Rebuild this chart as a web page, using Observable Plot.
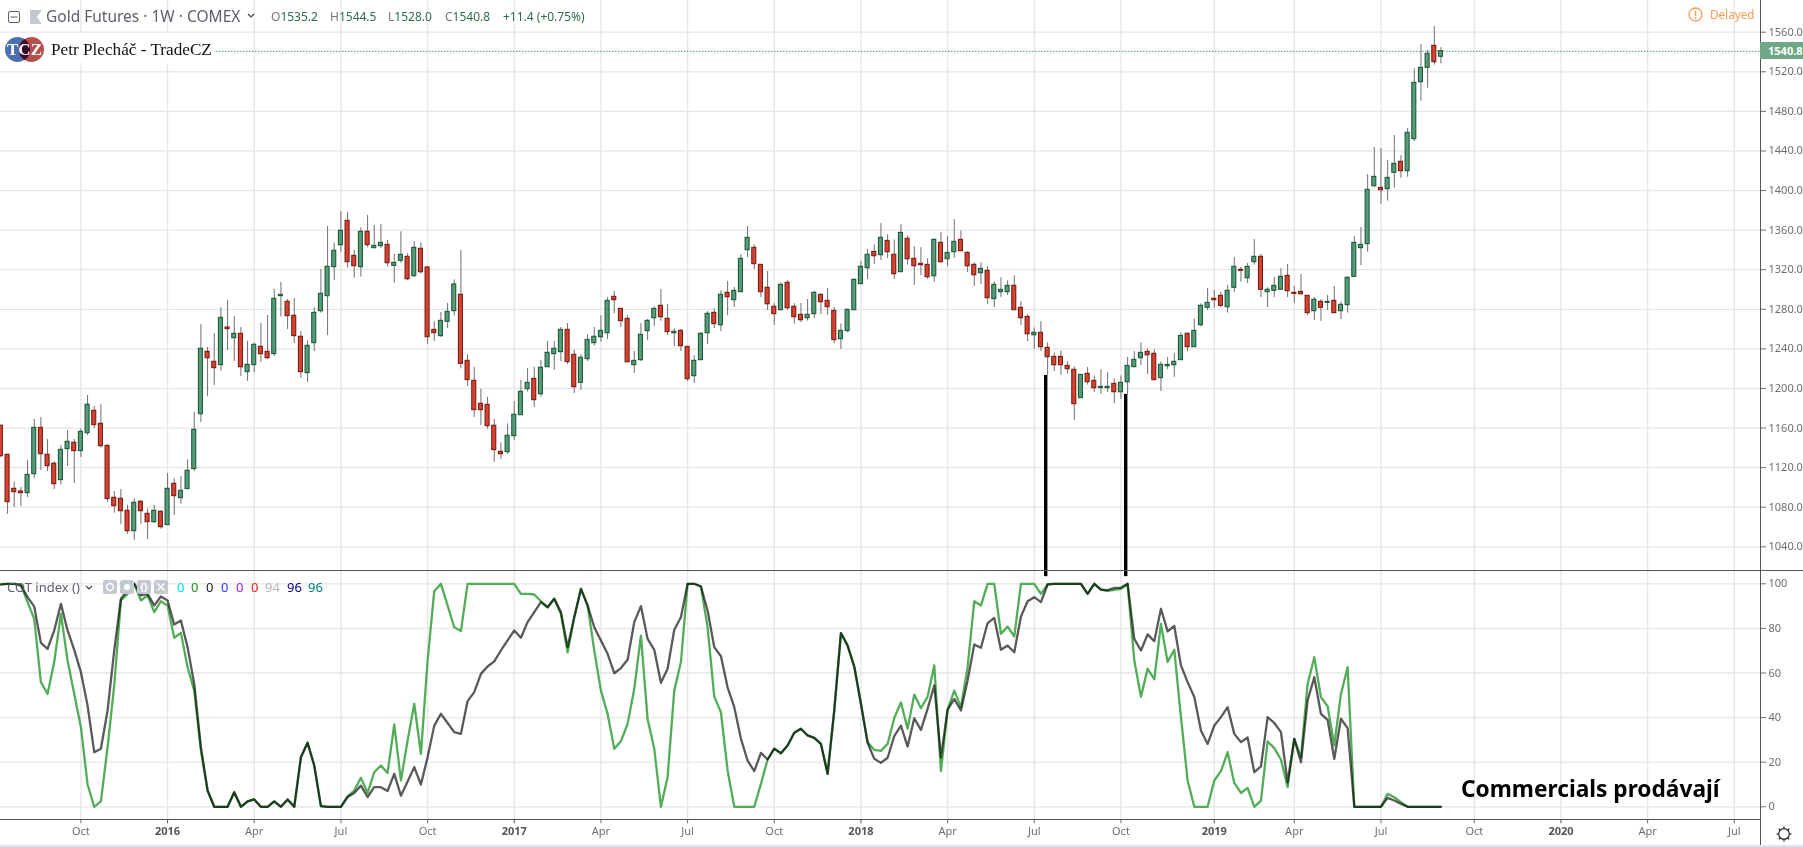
<!DOCTYPE html>
<html><head><meta charset="utf-8">
<script src="https://cdn.jsdelivr.net/npm/d3@7"></script>
<script src="https://cdn.jsdelivr.net/npm/@observablehq/plot@0.6"></script>
<style>
html,body{margin:0;padding:0;background:#fff;overflow:hidden}
#wrap{position:relative;width:1803px;height:847px;font-family:"Noto Sans",sans-serif}
#wrap svg{display:block}
.ov{position:absolute;white-space:nowrap;line-height:1}
.box{position:absolute}
</style></head><body>
<div id="wrap"><div id="top"></div><div id="bottom"></div></div>
<script>
const firstWeek = "2015-07-13";
const opens = [
1162.3,1133,1098.6,1095.9,1094.2,1113.4,1160.2,1133,1123.9,1107.4,
1138.7,1145.1,1136.7,1154.8,1177.4,1164.3,1142,1089.5,1088.5,1076.4,
1055.8,1085.5,1073.3,1064.9,1075.4,1061.9,1103.6,1089.2,1098.3,1118.5,
1174,1237,1226.9,1223.6,1261.6,1250.8,1255.2,1216.5,1223.6,1242.1,
1237,1234.7,1293.3,1287.5,1273.4,1252.2,1215.5,1245.8,1278.1,1293.3,
1322.6,1344.8,1369.4,1334,1322.6,1358.3,1341.8,1343.8,1345.1,1323.9,
1329,1333,1313.5,1341.1,1322.2,1259.2,1252.9,1267.3,1278.1,1294.6,
1227.9,1207.7,1184.5,1183.5,1162.3,1136,1135.6,1151.8,1173,1199.3,
1209.7,1194.2,1221.5,1234.7,1236.7,1259.2,1234,1205.7,1229.6,1245.8,
1251.8,1255.8,1292.6,1280.4,1270.3,1223.5,1228.6,1257.9,1271,1283.5,
1270.3,1255.8,1258.2,1242,1212.4,1228.6,1255.8,1276.4,1263.9,1296.6,
1289.2,1297.3,1339.7,1342.1,1324.9,1301.7,1282.5,1279.1,1306.7,1282.5,
1274.4,1271,1275.1,1294.6,1288.5,1278.4,1249.8,1257.9,1279.1,1305.4,
1321.5,1338,1334.7,1349.1,1335,1317.5,1351.2,1331,1325.9,1324.9,
1313.4,1347.1,1330.6,1337.7,1350.1,1337,1324.9,1316.5,1318.8,1290.2,
1297.3,1297.3,1303.7,1281.4,1272.3,1253.8,1256.2,1241,1231.9,1231.9,
1222.8,1218.8,1190.2,1214.8,1207.7,1200.3,1200.3,1204.6,1196.2,1206.3,
1221.5,1230.6,1237,1235,1210.4,1222.5,1223.5,1228.6,1255.2,1241.7,
1263.9,1281.5,1290.6,1293.6,1282.1,1301.7,1319.9,1311.4,1327.6,1333,
1297.3,1298.6,1299.7,1313.8,1296.6,1297.6,1293.6,1278.1,1287.5,1286.5,
1288.5,1278.1,1284.2,1312.8,1341.8,1345.8,1404.4,1402.7,1401.4,1417.9,
1429,1419.6,1451.9,1509.5,1524,1546.2,1535.2];
const closes = [
1131.6,1085.1,1095.2,1094.2,1112.7,1160.2,1133.6,1121.5,1103.3,1138,
1146.1,1136.7,1156.2,1183.5,1162.9,1141.7,1088.2,1081.1,1076,1055.8,
1084.5,1076,1064.9,1076.4,1059.9,1098.6,1091.2,1096.6,1116.8,1158.2,
1240.1,1230.6,1220.5,1271.4,1259.9,1255.2,1221.5,1223.9,1244.1,1234.7,
1230.6,1290.6,1294.6,1273.1,1252.9,1216.5,1243.1,1276.4,1295.6,1322.9,
1339.1,1359.3,1327.6,1323.6,1358.3,1344.8,1344.1,1347.1,1326.6,1326.9,
1335,1310.4,1342.1,1317.5,1251.8,1255.9,1268.3,1277.4,1305.1,1224.9,
1208.4,1178.1,1178.1,1161.9,1137.7,1133.6,1152.2,1173.4,1196.6,1205.7,
1188.2,1220.9,1236,1240.1,1259.2,1226.6,1201.3,1231,1249.1,1252.2,
1258.2,1288.5,1289.2,1268,1226.5,1227.9,1254.2,1268.3,1280.4,1272,
1256.9,1257.2,1242.7,1209.4,1227.9,1255.2,1275.4,1265,1294.6,1292.2,
1298.6,1331,1352.2,1325.6,1297.3,1285.1,1275.1,1304.7,1281.1,1272,
1269,1274.4,1296.6,1287.2,1282.1,1248.8,1258.2,1279.4,1309.7,1322.9,
1335,1333.6,1352.2,1337.7,1315.5,1357.2,1330.6,1323.5,1324.6,1312.4,
1350.1,1327.6,1337,1348.1,1338.7,1323.5,1314.4,1320.8,1291.2,1304.7,
1299.6,1303.7,1279.1,1271,1254.8,1256.2,1241.7,1231.6,1223.5,1223.5,
1219.5,1184.1,1213.7,1206.3,1200.3,1201.6,1201.6,1196.2,1205.7,1222.8,
1228.9,1236,1233.6,1208.4,1223.8,1223.8,1226.9,1253.1,1241.7,1258.2,
1283.5,1286.5,1289.2,1283.5,1298.6,1322.9,1318.9,1322.9,1333,1299.7,
1299.7,1303.7,1312.8,1298.3,1295.6,1295.3,1276.1,1289.6,1281.5,1287.5,
1276.1,1284.5,1311.8,1347.1,1345.1,1400.7,1413.8,1400.4,1412.8,1427,
1419.6,1458.3,1508.8,1524,1538.1,1529.7,1540.8];
const highs = [
1163,1133,1105.3,1100,1127.2,1168.7,1170.7,1148.4,1125.9,1142.4,
1157.5,1148.4,1159.2,1192.9,1181.8,1183.5,1143,1095.9,1097.9,1081.8,
1088.5,1086.8,1078.4,1081.8,1076.4,1114.1,1108.7,1111.1,1127.9,1175.7,
1264.6,1241.4,1255.5,1281.5,1288.9,1272.7,1261.6,1247.5,1245.8,1265.7,
1273.7,1300,1307.1,1289.9,1290.9,1257.6,1248.1,1281.5,1320.2,1363.7,
1347.1,1378.8,1377.8,1339.4,1362.3,1374.8,1364.7,1365.7,1349.5,1335.4,
1358.3,1336,1348.2,1347.1,1323.2,1267.7,1276.8,1285.9,1309.8,1339.4,
1234,1221.2,1199,1190.9,1168.7,1145.1,1164.3,1186.8,1208.1,1220.2,
1221.2,1228.3,1247.5,1247.5,1261.6,1265.7,1238.7,1234,1254.2,1261.6,
1273.4,1291.9,1298,1280.4,1273.7,1237.3,1265.6,1269.7,1282.5,1300,
1284.8,1260.2,1259.6,1242.7,1233,1256.5,1277.7,1280.4,1298.6,1308.1,
1302,1335.3,1363.6,1345.1,1324.9,1318.2,1285.8,1306.7,1309.1,1285.8,
1285.8,1289.9,1298,1295.6,1301,1281.8,1265.3,1280.4,1310.7,1328.3,
1340.4,1345.1,1366.7,1355.2,1350.1,1365.6,1354.2,1343.4,1342.4,1331,
1351.2,1357.6,1353.5,1370.7,1359.2,1338,1326.9,1326.9,1322.9,1307.7,
1311.8,1308.7,1313.8,1287.8,1274.4,1261.2,1267.6,1246.1,1236,1238,
1226.9,1221.8,1213.7,1221.2,1212.7,1219.1,1216.1,1209.7,1212.7,1231.3,
1237.3,1246.1,1240,1239,1226.9,1231.3,1235.3,1256.2,1256.2,1270.3,
1285.5,1301,1299,1297,1304,1332.3,1322.2,1326.3,1350.5,1335.4,
1301.7,1312.1,1321.2,1325.3,1303,1315.2,1293.6,1291.9,1289.9,1293.9,
1303,1287.5,1313.1,1353.5,1362.6,1416.2,1443.5,1442.5,1430.3,1455.6,
1435.4,1462.7,1523,1547.5,1541.5,1565.7,1544.5];
const lows = [
1130,1072.7,1079.7,1080.7,1089.8,1109,1117.1,1116.1,1097.9,1102.3,
1121.2,1104,1130.3,1152.5,1159.6,1139.7,1085.1,1074,1062.6,1052.5,
1046.4,1062.6,1047.4,1063.9,1057.8,1061.9,1071.7,1083.1,1098.3,1116.4,
1165.6,1191.9,1203,1217.2,1238.4,1227.3,1212.1,1207.1,1216.1,1226.2,
1229.3,1232.3,1272.1,1259.6,1245.4,1210.1,1206,1237.4,1276.1,1253.5,
1309.1,1337.7,1321.6,1311.4,1312.5,1342.1,1341,1341.8,1322.6,1306.4,
1326.6,1309.1,1312.1,1315.8,1244.4,1247.5,1251.5,1260.6,1273.1,1219.8,
1202,1170.7,1162.6,1158.9,1125.2,1128.2,1133.6,1147.4,1173,1196.3,
1180.8,1191.2,1221.5,1218.2,1226.9,1224.2,1194.9,1198,1227.3,1242.8,
1246.8,1249.4,1275.7,1261.6,1226.5,1215.1,1227.2,1248.4,1262.6,1268,
1253.5,1242.4,1237.3,1207,1205,1228.6,1244.4,1260.6,1257.5,1273.7,
1281.8,1297.3,1332.3,1320.2,1291.9,1278.8,1263.6,1279.1,1278.8,1265,
1266.6,1268,1270.7,1274.7,1274,1245.4,1239.3,1256.5,1279.1,1305.4,
1310.1,1325.2,1329.3,1331.3,1310.1,1317.5,1324.6,1304,1314.1,1310.4,
1307.4,1326.6,1323.2,1331.6,1338.7,1317.1,1303,1305,1284.8,1281.8,
1291.9,1293.9,1279.1,1263.6,1247.4,1239.3,1237.3,1213.1,1217.1,1213.1,
1214.4,1167.6,1190.2,1203.3,1195.9,1193.9,1195.9,1184.8,1188.8,1193.9,
1221.5,1223.2,1214.1,1208.4,1196.9,1219.1,1211.1,1228.6,1237.3,1241.7,
1262.2,1278.8,1281.1,1281.5,1276.1,1297,1307.4,1306.1,1324.6,1291.9,
1281.8,1291.9,1299.7,1291.9,1286.2,1293.9,1273.7,1268.7,1267.7,1278.8,
1276.1,1269.7,1276.1,1312.8,1324.2,1337.7,1402.7,1386.2,1389.2,1402.4,
1412.5,1413.5,1449.5,1490.3,1503.4,1526.7,1528];
const cotGray = [
99.7,100,100,99.2,94,89.8,73.5,70.8,79.1,91,
79.1,70.4,60.4,45.4,24.5,26,43.2,70.1,93.3,97,
100,94.8,95.5,90.3,94.3,92.5,81.7,83.5,71.6,55.1,
26.7,7.3,0,0,0,6.5,0,2.4,3.3,0,
0,2.4,0,3.3,0,22.2,28.7,18.5,0.3,0,
0,0,4.4,6.2,9.5,4.4,8.8,8.8,7.1,14.8,
5,11.3,17.8,10,22.2,36.4,41.7,37.6,33.5,32.7,
47.4,51.4,59.6,62.9,65.2,70.1,74.6,79.1,75.8,82.8,
87.3,91.8,89.5,93.3,87.3,71.6,85,97.7,90.3,80.5,
74.6,68.6,59.9,62.2,65.9,82.8,90,75.3,70.4,55.6,
61.9,79.4,85,100,100,98.8,88,71.6,67.5,53.6,
44.7,30.5,20.7,16,24.2,21.2,26.1,24,27.5,33.2,
35,32,30.9,28.2,14.8,43.2,77.9,72.3,62.9,46.2,
28.7,21.5,19.7,22,31.7,36.4,27,39.7,34.5,43.9,
54.4,22.2,43.6,48.4,43.2,56.6,72.8,71.3,82.4,84.7,
70.4,72.3,69.3,85.3,92.2,94,91.8,99.7,100,100,
100,100,100,95.5,100,97.4,97.1,98.2,98.2,100,
75.3,70.1,77.3,74.3,88.8,78.7,81.1,63.4,55.9,49.2,
34.2,28.2,36.4,40.2,44.7,32.7,29,31.1,15.5,18.1,
40.2,37.6,33.5,11,30.5,20,47.7,58.1,41.7,39,
21.5,39.5,35.3,0,0,0,0,0,4,2.8,
1.3,0,0,0,0,0,0];
const cotGreen = [
99.7,100,100,99.7,91.8,84.3,55.9,50.6,64.9,86.5,
65.6,50.6,35.7,10,0,2.4,26.7,54.4,92.5,95.5,
100,92.5,94.8,87.3,92.2,90.3,75.8,78,62.6,52.1,
25.2,7.3,0,0,0,6.5,0,2.4,3.3,0,
0,2.4,0,3.3,0,22.2,28.7,18.5,0.3,0,
0,0,4.7,7.3,13,6.2,15.5,18.5,15.2,36.9,
11.8,29.7,46.2,23.7,65.6,96.7,100,90.3,80.5,78.8,
100,100,100,100,100,100,100,100,95.5,95.5,
95.2,92.2,89.5,93.3,86.5,69.3,85,97.7,90.3,70.1,
52.1,41.7,26,29.4,37.2,52.9,76.8,39.4,26,0,
13.3,52.1,64.9,100,100,98.8,80.5,49.4,42.4,16.3,
0,0,0,0,10.3,21.2,26.1,24,27.5,33.2,
35,32,30.9,28.2,14.8,43.2,77.9,72.3,62.9,46.2,
29,25.5,25.1,28.2,39.9,46.8,35,50.3,44.2,49.4,
63.4,16,43.6,52.1,44.7,62.6,92.2,90.3,100,100,
77.6,80.8,76.4,100,100,100,95.5,99.7,100,100,
100,100,100,95.5,100,97.4,96.8,97.3,97.7,100,
65.6,49.4,61.9,57.2,82,64.9,70.4,40.2,11.8,0,
0,0,11.8,16,24.5,10.7,6.2,8.5,0,2.8,
29.3,26.3,21.2,8.8,30.5,22.2,55.1,67.1,49.2,45.1,
27.5,50.6,62.6,0,0,0,0,0,5.8,4.3,
2.1,0,0,0,0,0,0];
const monthTickDates = ["2015-10-05","2016-04-04","2016-07-04","2016-10-03","2017-04-03","2017-07-03","2017-10-02","2018-04-02","2018-07-02","2018-10-01","2019-04-01","2019-07-01","2019-10-07","2020-04-06","2020-07-06"];
const monthTickLabels = ["Oct","Apr","Jul","Oct","Apr","Jul","Oct","Apr","Jul","Oct","Apr","Jul","Oct","Apr","Jul"];
const yearTickDates = ["2016-01-04","2017-01-02","2018-01-01","2019-01-07","2020-01-06"];
const yearTickLabels = ["2016","2017","2018","2019","2020"];
const priceTicks = [1040,1080,1120,1160,1200,1240,1280,1320,1360,1400,1440,1480,1520,1560];
const cotTicks = [0,20,40,60,80,100];
const lastPrice = 1540.8;
const markerDates = ["2018-07-14","2018-10-06"];
const markerPrices = [1213.1,1194];
const annotation = "Commercials prodávají";
const annotationDate = "2019-09-23";
const annotationValue = 7.8;

const DAY = 864e5;
const t0 = Date.parse(firstWeek);
const bars = opens.map((o,i)=>({date:new Date(t0+i*7*DAY),a:new Date(t0+i*7*DAY-2.1*DAY),b:new Date(t0+i*7*DAY+2.1*DAY),open:o,close:closes[i],high:highs[i],low:lows[i]}));
const allTicks = [...monthTickDates,...yearTickDates].map(d=>new Date(d));
const xScale = {type:"utc",domain:[new Date("2015-07-12T13:55Z"),new Date("2020-08-02T12:00Z")],range:[0,1760],axis:null};
const fontFam = '"Noto Sans",sans-serif';
const GRID = "#e6e6e6";
const AX = "#6e6e6e";

const topPlot = Plot.plot({
  width:1803,height:571,marginLeft:0,marginRight:43,marginTop:0,marginBottom:0,
  style:{fontFamily:fontFam,background:"#fff"},
  x:xScale,
  y:{domain:[1040,1560],range:[546.3,31.7],axis:null},
  marks:[
    Plot.ruleY(priceTicks,{stroke:GRID,strokeWidth:1.3}),
    Plot.gridX(allTicks,{stroke:GRID,strokeWidth:1.3,strokeOpacity:1}),
    Plot.ruleY([lastPrice],{stroke:"#3f9670",strokeWidth:1.1,strokeDasharray:"1.5 1.5"}),
    Plot.ruleX(bars,{x:"date",y1:"low",y2:"high",stroke:"#6f6f6f",strokeWidth:1}),
    Plot.rect(bars,{x1:"a",x2:"b",y1:"open",y2:"close",
      fill:d=>d.close>=d.open?"#569c78":"#d8432f",
      stroke:d=>d.close>=d.open?"#1c5a3b":"#781c14",strokeWidth:1.1}),
    Plot.ruleX(markerDates.map((d,i)=>({x:new Date(d),p:markerPrices[i]})),{x:"x",y1:"p",y2:()=>1015,stroke:"#000",strokeWidth:3.4}),
    Plot.axisY({anchor:"right",ticks:priceTicks,tickFormat:d=>d.toFixed(1),tickSize:5,tickPadding:3,label:null,fontSize:11,color:AX})
  ]
});
const bottomPlot = Plot.plot({
  width:1803,height:276,marginLeft:0,marginRight:43,marginTop:0,marginBottom:27.7,
  style:{fontFamily:fontFam,background:"#fff"},
  x:xScale,
  y:{domain:[0,100],range:[235.3,12.3],axis:null},
  marks:[
    Plot.ruleY(cotTicks,{stroke:GRID,strokeWidth:1.3}),
    Plot.gridX(allTicks,{stroke:GRID,strokeWidth:1.3,strokeOpacity:1}),
    Plot.line(bars,{x:"date",y:(d,i)=>cotGreen[i],stroke:"#52ad57",strokeWidth:2.3}),
    Plot.line(bars,{x:"date",y:(d,i)=>cotGray[i],stroke:"#5a5a5a",strokeWidth:2.3,mixBlendMode:"multiply"}),
    Plot.ruleX(markerDates.map(d=>new Date(d)),{y1:()=>103.2,y2:()=>105.5,stroke:"#000",strokeWidth:3.4}),
    Plot.text([annotation],{x:()=>new Date(annotationDate),y:()=>annotationValue,text:d=>d,textAnchor:"start",fontSize:22.7,fontWeight:700,fill:"#000"}),
    Plot.axisX({anchor:"bottom",ticks:monthTickDates.map(d=>new Date(d)),tickFormat:d=>monthTickLabels[monthTickDates.indexOf(d.toISOString().slice(0,10))],tickSize:4,tickPadding:3,label:null,fontSize:11,color:AX,tickRotate:0}),
    Plot.axisX({anchor:"bottom",ticks:yearTickDates.map(d=>new Date(d)),tickFormat:d=>yearTickLabels[yearTickDates.indexOf(d.toISOString().slice(0,10))],tickSize:4,tickPadding:3,label:null,fontSize:11,fontWeight:700,color:"#555"}),
    Plot.axisY({anchor:"right",ticks:cotTicks,tickFormat:d=>String(d),tickSize:5,tickPadding:3,label:null,fontSize:11,color:AX})
  ]
});
document.getElementById("top").appendChild(topPlot);
document.getElementById("bottom").appendChild(bottomPlot);

const wrap = document.getElementById("wrap");
function box(l,t,w,h,bg,extra){const e=document.createElement("div");e.className="box";e.style.cssText=`left:${l}px;top:${t}px;width:${w}px;height:${h}px;background:${bg};${extra||""}`;wrap.appendChild(e);return e;}
function txt(s,l,t,size,col,extra){const e=document.createElement("div");e.className="ov";e.textContent=s;e.style.cssText=`left:${l}px;top:${t}px;font-size:${size}px;color:${col};${extra||""}`;wrap.appendChild(e);return e;}
function svgAt(l,t,w,h,inner){const e=document.createElement("div");e.className="box";e.style.cssText=`left:${l}px;top:${t}px;width:${w}px;height:${h}px`;e.innerHTML=`<svg xmlns="http://www.w3.org/2000/svg" width="${w}" height="${h}" viewBox="0 0 ${w} ${h}">${inner}</svg>`;wrap.appendChild(e);}

// frame lines
box(1759.5,0,1,845,"#555");
box(0,570.2,1803,1,"#555");
box(0,819,1760,1,"#555");
box(0,845,1803,2,"#e0e3eb");

// header legend
svgAt(8,11,12,12,'<rect x=".5" y=".5" width="11" height="11" rx="1.5" fill="#fff" stroke="#5d606b"/><line x1="2.5" y1="6" x2="9.5" y2="6" stroke="#5d606b"/>');
svgAt(30,10,12,14,'<path d="M0 0H12L7 7L12 14H0Z" fill="#c4c8d0"/>');
txt("Gold Futures · 1W · COMEX",46,9,15.5,"#5d606b");
svgAt(247,13,8,6,'<path d="M1 1L4 4L7 1" fill="none" stroke="#444" stroke-width="1.2"/>');
const ohlc=[["O","1535.2",271],["H","1544.5",330],["L","1528.0",388],["C","1540.8",445]];
ohlc.forEach(([k,v,x])=>{const e=txt("",x,11,12,"#2f6d4a");e.innerHTML=`<span style="color:#777">${k}</span>${v}`;});
txt("+11.4 (+0.75%)",503,11,12,"#2f6d4a");

// author logo and white backdrop
box(0,33,214,30,"#fff");
svgAt(5,37,39,25,'<circle cx="12.5" cy="12.5" r="12.5" fill="#4a6fb0"/><circle cx="26.5" cy="12.5" r="12.5" fill="#b5504c"/><path d="M19.5 2.1A12.5 12.5 0 0 1 19.5 22.9A12.5 12.5 0 0 1 19.5 2.1Z" fill="#3a0a2a"/><text x="19.5" y="18" text-anchor="middle" font-family="Liberation Serif" font-weight="700" font-size="17" fill="#fff">TCZ</text>');
txt("Petr Plecháč - TradeCZ",51,40.5,17.2,"#111",'font-family:"Liberation Serif",serif');

// delayed
svgAt(1688,7,15,15,'<circle cx="7.5" cy="7.5" r="6.5" fill="none" stroke="#ff9850" stroke-width="1.3"/><line x1="7.5" y1="3.8" x2="7.5" y2="8.8" stroke="#ff9850" stroke-width="1.4"/><circle cx="7.5" cy="10.9" r=".9" fill="#ff9850"/>');
txt("Delayed",1710,9,11.7,"#ff9850");

// last price tag
box(1760,42.3,43,16.5,"#6fa886");
txt("1540.8",1768,44.5,11,"#fff","font-weight:700");

// COT legend
txt("COT index ()",7,580.5,13,"#5d606b");
svgAt(85,585,8,6,'<path d="M1 1L4 4L7 1" fill="none" stroke="#444" stroke-width="1.2"/>');
[103,120,137,154].forEach((x,i)=>{
  const g=["<circle cx='7' cy='7' r='3.4' fill='none' stroke='#fff' stroke-width='1.5'/>","<circle cx='7' cy='7' r='3' fill='#fff'/>","<text x='7' y='10.5' text-anchor='middle' font-size='10' font-weight='700' fill='#fff'>{}</text>","<path d='M3.5 3.5L10.5 10.5M10.5 3.5L3.5 10.5' stroke='#fff' stroke-width='1.5'/>"][i];
  svgAt(x,580,14,14,`<rect width="14" height="14" rx="2.5" fill="#c4c8d0"/>${g}`);
});
[["0",177,"#00e5ff"],["0",191,"#1e8f1e"],["0",206,"#222"],["0",221,"#3333ff"],["0",236,"#a020f0"],["0",251,"#ff1a1a"],["94",265,"#b8b8b8"],["96",287,"#000080"],["96",308,"#008080"]]
  .forEach(([s,x,c])=>txt(s,x,580.5,13,c));

// settings gear
const rays=[0,45,90,135,180,225,270,315].map(a=>`<line x1="9" y1="1.5" x2="9" y2="3.5" stroke="#222" stroke-width="1.2" transform="rotate(${a} 9 9)"/>`).join("");
svgAt(1774.5,825,18,18,`<circle cx="9" cy="9" r="5.3" fill="none" stroke="#222" stroke-width="1.2"/>${rays}`);
</script>
</body></html>
